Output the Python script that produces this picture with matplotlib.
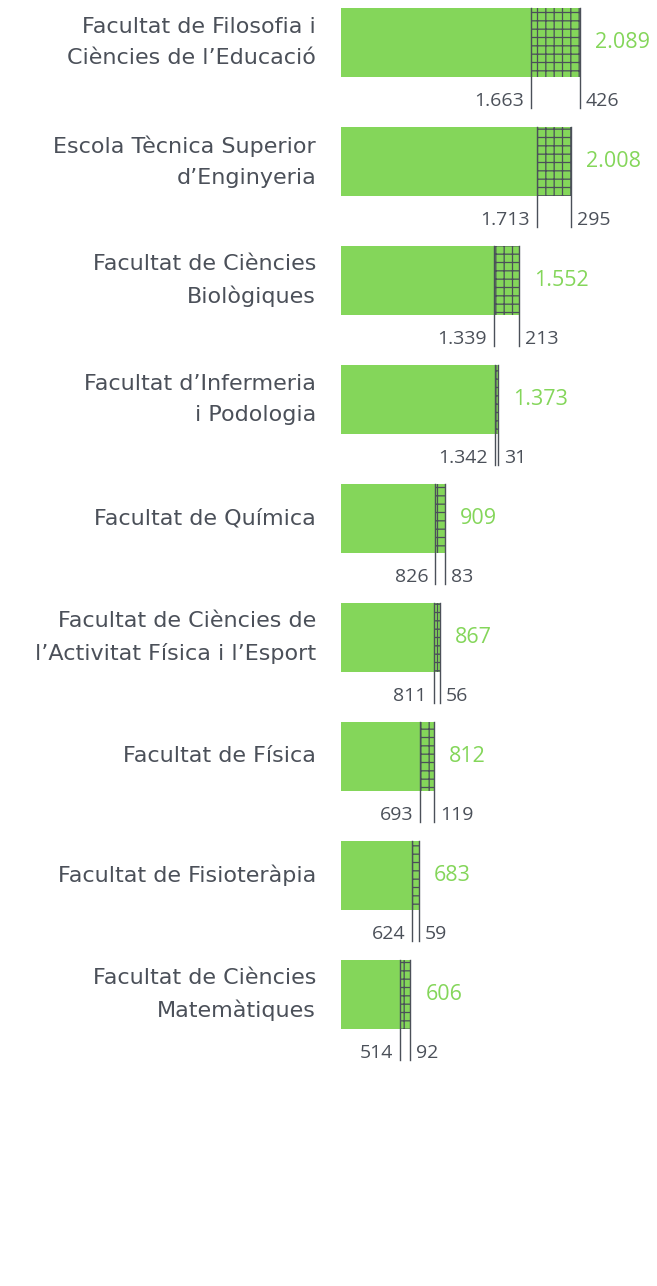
import matplotlib.pyplot as plt

plt.rcParams['font.family'] = ['Open Sans', 'DejaVu Sans']
plt.rcParams['hatch.linewidth'] = 0.9

## data
faculties = ["Facultat de Filosofia i\nCiències de l’Educació",
             "Escola Tècnica Superior\nd’Enginyeria",
             "Facultat de Ciències\nBiològiques",
             "Facultat d’Infermeria\ni Podologia",
             "Facultat de Química",
             "Facultat de Ciències de\nl’Activitat Física i l’Esport",
             "Facultat de Física",
             "Facultat de Fisioteràpia",
             "Facultat de Ciències\nMatemàtiques"]
first_part = [1663, 1713, 1339, 1342, 826, 811, 693, 624, 514]
second_part = [426, 295, 213, 31, 83, 56, 119, 59, 92]
totals = [a + b for a, b in zip(first_part, second_part)]

green = '#84d65a'
grey = '#4b5059'

def fmt(v):
    return f"{v:,}".replace(',', '.')

W, H = 657, 1286
x0 = 341          # pixel where bars start
s = 0.1144        # pixels per unit
fig = plt.figure(figsize=(W / 100, H / 100), dpi=100)
ax = fig.add_axes([0, 0, 1, 1])
ax.set_xlim(-x0 / s, (W - x0) / s)
ax.set_ylim(H, 0)
ax.axis('off')

px = lambda p: p / s  # pixel offset -> data units

bar_h = 69
step = 119
for i, (name, a, b, t) in enumerate(zip(faculties, first_part, second_part, totals)):
    top = 8 + i * step
    yc = top + bar_h / 2
    ax.barh(yc, a, height=bar_h, color=green, linewidth=0)
    ax.barh(yc, b, left=a, height=bar_h, color=green, edgecolor=grey,
            linewidth=0, hatch='++')
    # guide lines down to the labels
    ax.plot([a, a], [top, top + 100], color=grey, lw=1)
    ax.plot([t, t], [top, top + 100], color=grey, lw=1)
    ax.text(a - px(7), top + 93, fmt(a), ha='right', va='center',
            fontsize=14, color=grey)
    ax.text(t + px(6), top + 93, fmt(b), ha='left', va='center',
            fontsize=14, color=grey)
    ax.text(t + px(15), yc, fmt(t), ha='left', va='center',
            fontsize=15.5, color=green)
    ax.text(px(316 - x0), yc, name, ha='right', va='center',
            fontsize=16, color=grey, linespacing=1.7,
            family=['DejaVu Sans'])

fig.savefig('out.png', dpi=100)
